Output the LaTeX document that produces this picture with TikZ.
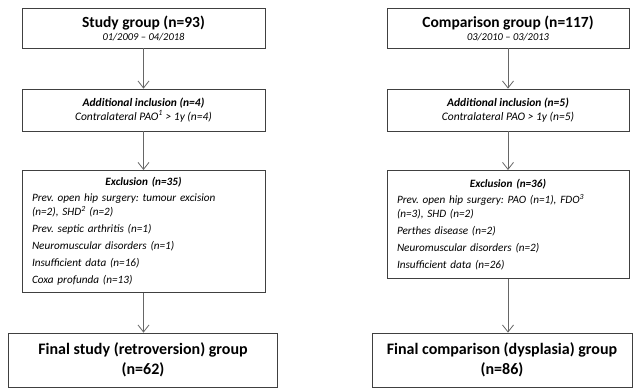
\documentclass[tikz,border=0pt]{standalone}
\usepackage{fontspec}
\setmainfont{Carlito}
\frenchspacing
\usetikzlibrary{arrows.meta}

\begin{document}
\begin{tikzpicture}[x=1pt,y=-1pt]
	\useasboundingbox (0,0) rectangle (634,389);
	\begin{scope}[color=black!75]
		\tikzstyle{every node}=[draw,line width=0.8pt,inner sep=0pt,align=center,text=black]
		\tikzstyle{head}=[font=\fontsize{16}{14}\selectfont\bfseries]
		\tikzstyle{small}=[font=\fontsize{11.5}{14}\selectfont\itshape]
		\tikzstyle{arr}=[line width=0.8pt,black!60,-{Straight Barb[length=7pt,width=11pt]}]
		% top boxes
		\node[minimum width=243pt,minimum height=40pt] at (143.5,28) (s1)
			{{\fontsize{15.5}{15}\selectfont\bfseries Study group (n=93)}\\[1pt]
			{\fontsize{10.5}{12}\selectfont\itshape 01/2009 -- 04/2018}};
		\node[minimum width=242pt,minimum height=40pt] at (508,28) (s2)
			{{\fontsize{15.5}{15}\selectfont\bfseries Comparison group (n=117)}\\[1pt]
			{\fontsize{10.5}{12}\selectfont\itshape 03/2010 -- 03/2013}};
		% additional inclusion
		\node[minimum width=243pt,minimum height=42pt,small] at (143.5,110) (a1)
			{\textbf{Additional inclusion (n=4)}\\Contralateral PAO\textsuperscript{1} > 1y (n=4)};
		\node[minimum width=242pt,minimum height=42pt,small] at (508,110) (a2)
			{\textbf{Additional inclusion (n=5)}\\Contralateral PAO > 1y (n=5)};
		% exclusion
		\node[text width=223pt,minimum height=122pt,align=left,anchor=north,inner xsep=10pt,
			font=\fontsize{11.2}{14.5}\selectfont\itshape] at (143.5,170) (e1)
			{\makebox[223pt]{\bfseries Exclusion (n=35)}\\[1.5pt]
			Prev. open hip surgery: tumour excision\\(n=2), SHD\textsuperscript{2} (n=2)\\[2.5pt]
			Prev. septic arthritis (n=1)\\[2.5pt]
			Neuromuscular disorders (n=1)\\[2.5pt]
			Insufficient data (n=16)\\[2.5pt]
			Coxa profunda (n=13)};
		\node[text width=222pt,minimum height=108pt,align=left,anchor=north,inner xsep=10pt,
			font=\fontsize{11.2}{14.5}\selectfont\itshape] at (508,170) (e2)
			{\makebox[222pt]{\bfseries Exclusion (n=36)}\\[1.5pt]
			Prev. open hip surgery: PAO (n=1), FDO\textsuperscript{3}\\(n=3), SHD (n=2)\\[2.5pt]
			Perthes disease (n=2)\\[2.5pt]
			Neuromuscular disorders (n=2)\\[2.5pt]
			Insufficient data (n=26)};
		% final groups
		\node[minimum width=269pt,minimum height=54pt,head] at (143,360) (f1)
			{Final study (retroversion) group\\[4pt](n=62)};
		\node[minimum width=260pt,minimum height=54pt,head] at (502,360) (f2)
			{Final comparison (dysplasia) group\\[4pt](n=86)};
		\foreach \c in {1,2}
		{\draw[arr] (s\c) -- (a\c);
			\draw[arr] (a\c) -- (e\c.north);
			\draw[arr] (e\c.south) -- (e\c.south |- f\c.north);}
	\end{scope}
\end{tikzpicture}
\end{document}
